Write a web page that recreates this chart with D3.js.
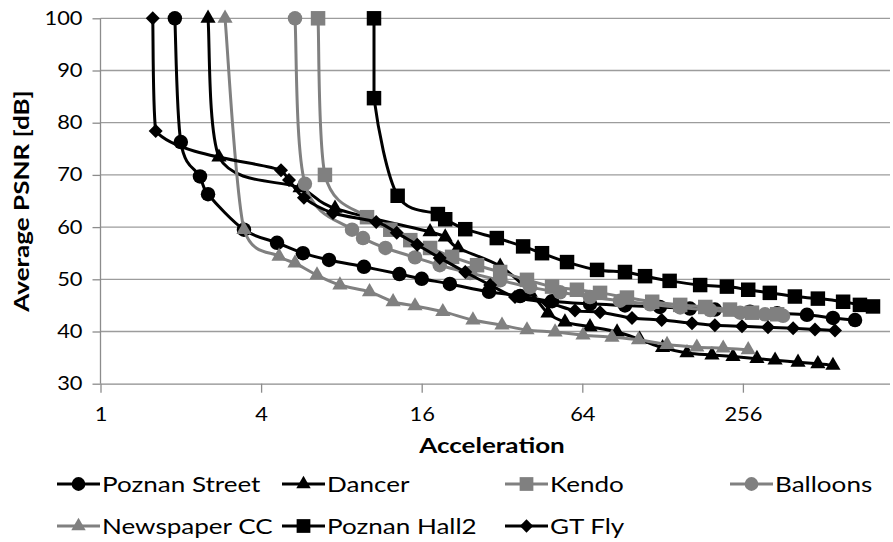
<!DOCTYPE html>
<html>
<head>
<meta charset="utf-8">
<script src="https://cdn.jsdelivr.net/npm/d3@7"></script>
<style>
  body { margin: 0; background: #fff; }
  text { font-family: Lato, "Open Sans", sans-serif; fill: #000; }
</style>
</head>
<body>
<div id="viz"></div>
<script>
// values (acceleration on a log4 axis, PSNR in dB)
const seriesNames = ["Poznan Street", "Dancer", "Kendo", "Balloons", "Newspaper CC", "Poznan Hall2", "GT Fly"];

const poznanStreetAcc = [1.90, 2.00, 2.36, 2.53, 3.45, 4.59, 5.74, 7.19, 9.72, 13.2, 16.0, 20.4, 28.6, 37.4, 49.3, 68.4, 92.5, 125, 162, 201, 272, 344, 445, 557, 674];
const poznanStreetPsnr = [100, 76.3, 69.7, 66.3, 59.5, 57.0, 55.0, 53.7, 52.4, 51.0, 50.1, 49.1, 47.6, 46.8, 45.8, 45.3, 45.0, 44.7, 44.4, 44.2, 43.8, 43.5, 43.2, 42.6, 42.2];

const dancerAcc = [2.53, 2.78, 5.60, 7.57, 17.2, 19.6, 21.9, 31.5, 40.8, 47.6, 55.1, 68.4, 86.4, 105, 128, 158, 196, 235, 289, 338, 412, 489, 557];
const dancerPsnr = [100, 73.4, 67.5, 63.6, 59.1, 58.1, 56.0, 52.5, 47.5, 43.5, 41.8, 40.9, 39.9, 38.5, 36.9, 35.9, 35.5, 35.2, 34.8, 34.5, 34.1, 33.8, 33.5];

const kendoAcc = [6.54, 6.94, 9.98, 12.2, 14.5, 17.2, 20.8, 25.8, 31.5, 39.7, 49.3, 61.1, 74.6, 94.1, 117, 149, 185, 229, 277, 344];
const kendoPsnr = [100, 70.0, 61.9, 59.5, 57.5, 56.0, 54.3, 52.7, 51.4, 49.9, 48.6, 48.0, 47.4, 46.5, 45.7, 45.1, 44.7, 44.2, 43.6, 43.3];

const balloonsAcc = [5.36, 5.84, 8.77, 9.64, 11.7, 15.1, 18.7, 24.3, 31.5, 40.8, 52.8, 68.4, 88.6, 115, 149, 193, 250, 310, 362];
const balloonsPsnr = [100, 68.3, 59.5, 57.9, 56.0, 54.2, 52.7, 51.2, 49.8, 48.5, 47.5, 46.6, 45.9, 45.2, 44.6, 44.1, 43.6, 43.3, 43.0];

const newspaperAcc = [2.93, 3.45, 4.67, 5.36, 6.48, 7.90, 10.2, 12.5, 15.1, 19.2, 24.9, 32.0, 39.7, 50.6, 64.4, 82.7, 104, 133, 172, 216, 268];
const newspaperPsnr = [100, 59.5, 54.4, 53.1, 50.8, 48.9, 47.6, 45.7, 44.9, 43.8, 42.2, 41.2, 40.3, 39.9, 39.3, 38.9, 38.4, 37.5, 37.0, 36.8, 36.5];

const hall2Acc = [10.6, 10.6, 13.0, 18.4, 19.6, 23.3, 30.6, 38.4, 45.2, 56.1, 72.7, 92.5, 110, 136, 177, 223, 268, 323, 401, 489, 608, 703, 787];
const hall2Psnr = [100, 84.7, 66.0, 62.5, 61.5, 59.6, 57.9, 56.3, 55.0, 53.3, 51.8, 51.4, 50.6, 49.7, 48.9, 48.6, 48.0, 47.4, 46.7, 46.3, 45.7, 45.1, 44.8];

const gtFlyAcc = [1.57, 1.61, 4.75, 5.09, 5.79, 7.44, 10.8, 12.9, 15.4, 18.7, 23.3, 28.9, 35.8, 47.6, 60.1, 74.6, 98.3, 127, 165, 201, 254, 318, 395, 477, 567];
const gtFlyPsnr = [100, 78.4, 70.9, 69.0, 65.6, 62.7, 61.0, 58.9, 56.6, 54.1, 51.4, 48.9, 46.6, 45.5, 44.0, 43.7, 42.6, 42.2, 41.6, 41.2, 41.0, 40.8, 40.6, 40.4, 40.2];

const xTicks = [1, 4, 16, 64, 256];
const yTicks = [30, 40, 50, 60, 70, 80, 90, 100];

const accs = [poznanStreetAcc, dancerAcc, kendoAcc, balloonsAcc, newspaperAcc, hall2Acc, gtFlyAcc];
const psnrs = [poznanStreetPsnr, dancerPsnr, kendoPsnr, balloonsPsnr, newspaperPsnr, hall2Psnr, gtFlyPsnr];
const colors = ["#000", "#000", "#808080", "#808080", "#808080", "#000", "#000"];
const shapes = ["circle", "triangle", "square", "circle", "triangle", "square", "diamond"];

const width = 893, height = 542;
const plotRight = 890;
const widen = 1.24; // the original font runs wider than Lato

const svg = d3.select("#viz").append("svg")
  .attr("width", width)
  .attr("height", height);

function stretch(sel, f) {
  sel.each(function () {
    const len = this.getComputedTextLength();
    d3.select(this).attr("textLength", len * f).attr("lengthAdjust", "spacingAndGlyphs");
  });
}

const x = d3.scaleLog().base(4)
  .domain([1, 1024])
  .range([100.5, 903.5]);

const y = d3.scaleLinear()
  .domain([30, 100])
  .range([383.7, 18.3]);

// gridlines
svg.append("g")
  .selectAll("line")
  .data(yTicks.slice(1))
  .join("line")
  .attr("x1", x(1)).attr("x2", plotRight)
  .attr("y1", d => y(d)).attr("y2", d => y(d))
  .attr("stroke", "#9c9c9c")
  .attr("stroke-width", 1.3);

// axes
const yAxis = svg.append("g")
  .attr("transform", `translate(${x(1)},0)`)
  .call(d3.axisLeft(y).tickValues(yTicks).tickSize(8).tickPadding(10));
const xAxis = svg.append("g")
  .attr("transform", `translate(0,${y(30)})`)
  .call(d3.axisBottom(x).tickValues(xTicks).tickFormat(d3.format("d")).tickSize(9).tickPadding(20));
xAxis.select(".domain").attr("d", `M${x(1)},0.5H${plotRight}`);

[xAxis, yAxis].forEach(a => {
  a.selectAll(".domain, .tick line").attr("stroke", "#8c8c8c").attr("stroke-width", 1.3);
  a.selectAll("text").attr("font-size", "19px").attr("font-family", "Lato");
  stretch(a.selectAll("text"), 1.15);
});
yAxis.select(".domain").attr("d", `M0,${y(30)}V${y(100)}`);
xAxis.selectAll("text").attr("dy", "0.45em");

function symbolPath(shape, s) {
  if (shape === "circle") return d3.symbol(d3.symbolCircle, 165 * s)();
  if (shape === "square") return d3.symbol(d3.symbolSquare, 210 * s)();
  if (shape === "triangle") return d3.symbol(d3.symbolTriangle, 100 * s)();
  // Excel diamond: a square turned by 45 degrees
  const r = 7 * Math.sqrt(s);
  return `M0,${-r}L${r},0L0,${r}L${-r},0Z`;
}

// Excel style smoothed line: Catmull-Rom bezier, control points kept
// inside each segment's box so the near-vertical drops stay straight
function smoothPath(pts) {
  const p = pts.map(d => [x(d[0]), y(d[1])]);
  const clamp = (v, a, b) => Math.max(Math.min(a, b), Math.min(Math.max(a, b), v));
  let path = `M${p[0][0]},${p[0][1]}`;
  for (let i = 0; i < p.length - 1; i++) {
    const p0 = p[i - 1] || p[i], p1 = p[i], p2 = p[i + 1], p3 = p[i + 2] || p[i + 1];
    const c1 = [p1[0] + (p2[0] - p0[0]) / 6, p1[1] + (p2[1] - p0[1]) / 6];
    const c2 = [p2[0] - (p3[0] - p1[0]) / 6, p2[1] - (p3[1] - p1[1]) / 6];
    [c1, c2].forEach(c => {
      c[0] = clamp(c[0], p1[0], p2[0]);
      c[1] = clamp(c[1], p1[1], p2[1]);
    });
    path += `C${c1[0]},${c1[1]},${c2[0]},${c2[1]},${p2[0]},${p2[1]}`;
  }
  return path;
}

seriesNames.forEach((name, i) => {
  const pts = accs[i].map((a, j) => [a, psnrs[i][j]]);
  const g = svg.append("g");
  g.append("path")
    .attr("d", smoothPath(pts))
    .attr("fill", "none")
    .attr("stroke", colors[i])
    .attr("stroke-width", 3);
  g.selectAll("path.m")
    .data(pts)
    .join("path")
    .attr("class", "m")
    .attr("transform", d => `translate(${x(d[0])},${y(d[1])})`)
    .attr("d", symbolPath(shapes[i], 1))
    .attr("fill", colors[i]);
});

// axis titles
svg.append("text")
  .attr("x", 492).attr("y", 446)
  .attr("dy", "0.35em")
  .attr("text-anchor", "middle")
  .style("font-size", "21px")
  .style("font-weight", "bold")
  .text("Acceleration")
  .call(stretch, widen);

svg.append("text")
  .attr("transform", `translate(22,${(y(30) + y(100)) / 2}) rotate(-90)`)
  .attr("dy", "0.35em")
  .attr("text-anchor", "middle")
  .style("font-size", "21px")
  .style("font-weight", "bold")
  .text("Average PSNR [dB]")
  .call(stretch, widen);

// legend
const legendPos = [[57, 484], [282, 484], [505, 484], [730, 484], [57, 526], [282, 526], [505, 526]];
seriesNames.forEach((name, i) => {
  const [lx, ly] = legendPos[i];
  const g = svg.append("g").attr("transform", `translate(${lx},${ly})`);
  g.append("line")
    .attr("x1", 0).attr("x2", 43)
    .attr("stroke", colors[i]).attr("stroke-width", 3);
  g.append("path")
    .attr("transform", "translate(21.5,0)")
    .attr("d", symbolPath(shapes[i], 0.9))
    .attr("fill", colors[i]);
  g.append("text")
    .attr("x", 45).attr("dy", "0.36em")
    .style("font-size", "21px")
    .text(name)
    .call(stretch, widen);
});
</script>
</body>
</html>
